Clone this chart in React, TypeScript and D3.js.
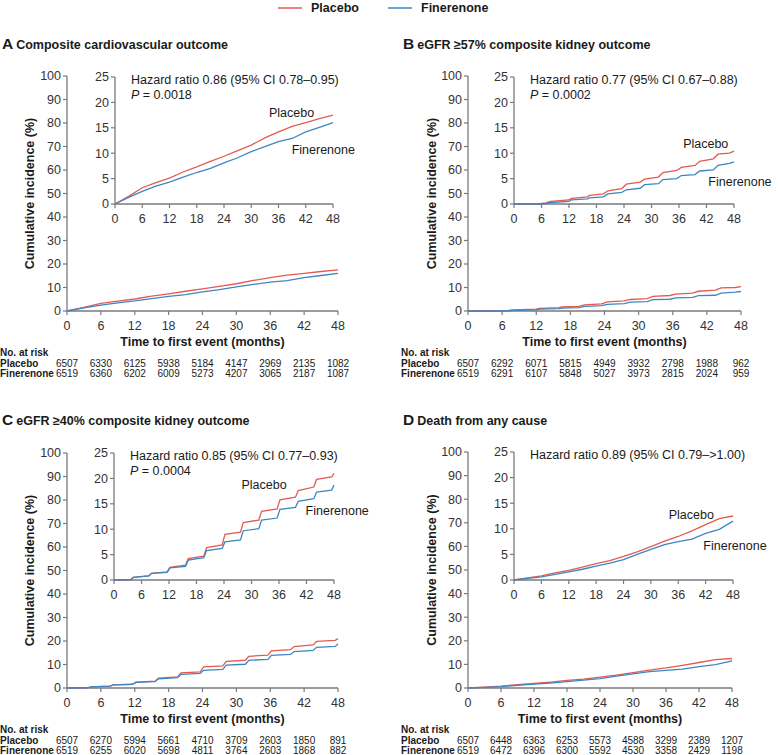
import React from "react";
import * as d3 from "d3";

// ---------- data ----------
const monthTicks = [0, 6, 12, 18, 24, 30, 36, 42, 48];
const mainYTicks = [0, 10, 20, 30, 40, 50, 60, 70, 80, 90, 100];
const insetYTicks = [0, 5, 10, 15, 20, 25];

// Panel A: composite cardiovascular outcome
const aTime = [0, 3, 6, 9, 12, 15, 18, 21, 24, 27, 30, 33, 36, 39, 42, 45, 48];
const aPlacebo = [0, 1.5, 3.2, 4.2, 5.1, 6.3, 7.3, 8.4, 9.4, 10.5, 11.6, 13.0, 14.2, 15.3, 16.0, 16.8, 17.5];
const aFinerenone = [0, 1.3, 2.5, 3.5, 4.3, 5.3, 6.2, 7.0, 8.1, 9.1, 10.3, 11.3, 12.3, 12.9, 14.2, 15.1, 16.0];
const aRiskPlacebo = [6507, 6330, 6125, 5938, 5184, 4147, 2969, 2135, 1082];
const aRiskFinerenone = [6519, 6360, 6202, 6009, 5273, 4207, 3065, 2187, 1087];

// Panel B: eGFR >=57% composite kidney outcome
const bTime = [0, 5, 7, 8, 12, 12.5, 16, 16.5, 19.5, 20.5, 23.5, 24.5, 27.5, 28.5, 31.5, 32.5, 35.5, 36.5, 39.5, 40.5, 43.5, 44.5, 47, 48];
const bPlacebo = [0, 0, 0.2, 0.5, 0.8, 1.1, 1.4, 1.7, 2.0, 2.6, 3.0, 3.9, 4.3, 4.9, 5.3, 6.2, 6.6, 7.2, 7.6, 8.4, 8.9, 9.8, 10.0, 10.4];
const bFinerenone = [0, 0, 0.1, 0.3, 0.5, 0.8, 1.0, 1.2, 1.4, 2.0, 2.3, 2.8, 3.1, 3.8, 4.0, 4.8, 5.0, 5.6, 5.8, 6.5, 6.7, 7.6, 8.0, 8.3];
const bRiskPlacebo = [6507, 6292, 6071, 5815, 4949, 3932, 2798, 1988, 962];
const bRiskFinerenone = [6519, 6291, 6107, 5848, 5027, 3973, 2815, 2024, 959];

// Panel C: eGFR >=40% composite kidney outcome
const cTime = [0, 3.7, 4.2, 7.6, 8.2, 11.6, 12.2, 15.6, 16.2, 19.6, 20.2, 23.6, 24.2, 27.6, 28.2, 31.6, 32.2, 35.6, 36.2, 39.6, 40.2, 43.6, 44.2, 47.5, 48];
const cPlacebo = [0, 0.1, 0.5, 0.8, 1.3, 1.6, 2.5, 2.9, 4.2, 4.7, 6.4, 6.9, 9.0, 9.4, 11.3, 11.8, 13.5, 14.0, 15.8, 16.3, 17.6, 18.3, 19.8, 20.3, 21.0];
const cFinerenone = [0, 0.1, 0.5, 0.8, 1.3, 1.5, 2.4, 2.7, 3.9, 4.4, 5.8, 6.2, 7.5, 7.9, 9.7, 10.1, 11.8, 12.2, 13.9, 14.3, 15.5, 16.0, 17.3, 17.7, 18.7];
const cRiskPlacebo = [6507, 6270, 5994, 5661, 4710, 3709, 2603, 1850, 891];
const cRiskFinerenone = [6519, 6255, 6020, 5698, 4811, 3764, 2603, 1868, 882];

// Panel D: death from any cause
const dTime = [0, 3, 6, 9, 12, 15, 18, 21, 24, 27, 30, 33, 36, 39, 42, 45, 48];
const dPlacebo = [0, 0.4, 0.8, 1.4, 1.9, 2.5, 3.2, 3.8, 4.6, 5.5, 6.5, 7.6, 8.5, 9.6, 10.8, 12.0, 12.5];
const dFinerenone = [0, 0.3, 0.6, 1.1, 1.6, 2.1, 2.7, 3.3, 4.0, 5.0, 6.0, 6.9, 7.5, 8.0, 9.1, 9.9, 11.5];
const dRiskPlacebo = [6507, 6448, 6363, 6253, 5573, 4588, 3299, 2389, 1207];
const dRiskFinerenone = [6519, 6472, 6396, 6300, 5592, 4530, 3358, 2429, 1198];

const panelLetters = ["A", "B", "C", "D"];
const panelTitles = [
  "Composite cardiovascular outcome",
  "eGFR ≥57% composite kidney outcome",
  "eGFR ≥40% composite kidney outcome",
  "Death from any cause",
];
const hazardTexts = [
  "Hazard ratio 0.86 (95% CI 0.78–0.95)",
  "Hazard ratio 0.77 (95% CI 0.67–0.88)",
  "Hazard ratio 0.85 (95% CI 0.77–0.93)",
  "Hazard ratio 0.89 (95% CI 0.79–>1.00)",
];
const pValues = ["0.0018", "0.0002", "0.0004", ""];
// label anchor positions in inset data units [month, %]
const placeboLabelPos = [[33.9, 18.0], [36.9, 11.8], [27.8, 18.7], [33.9, 12.7]];
const finerenoneLabelPos = [[38.9, 10.8], [42.4, 4.5], [41.8, 13.7], [41.5, 6.8]];

const seriesNames = ["Placebo", "Finerenone"];
const COLORS = ["#e35b50", "#3e86c3"];
const AXIS = "#7a7a7a";
const TEXT = "#1a1a1a";
const FONT = "'Liberation Sans', Arial, sans-serif";

const panelData = [
  { time: aTime, p: aPlacebo, f: aFinerenone, rp: aRiskPlacebo, rf: aRiskFinerenone },
  { time: bTime, p: bPlacebo, f: bFinerenone, rp: bRiskPlacebo, rf: bRiskFinerenone },
  { time: cTime, p: cPlacebo, f: cFinerenone, rp: cRiskPlacebo, rf: cRiskFinerenone },
  { time: dTime, p: dPlacebo, f: dFinerenone, rp: dRiskPlacebo, rf: dRiskFinerenone },
];

// layout (pixels)
const layouts = [
  { tx: 2, ty: 43, ylx: 30, main: { x0: 67, x1: 338, y0: 311, y1: 76 }, inset: { x0: 115, x1: 333, y0: 204, y1: 77 } },
  { tx: 403, ty: 43, ylx: 432, main: { x0: 468, x1: 741, y0: 311, y1: 76 }, inset: { x0: 514, x1: 734, y0: 204, y1: 77 } },
  { tx: 2, ty: 419, ylx: 30, main: { x0: 67, x1: 338, y0: 688, y1: 453 }, inset: { x0: 114, x1: 334, y0: 580, y1: 453 } },
  { tx: 403, ty: 419, ylx: 432, main: { x0: 468, x1: 732, y0: 688, y1: 452 }, inset: { x0: 514, x1: 733, y0: 580, y1: 452 } },
];

function Axes({ x, y, yTicks }: any) {
  const [xa, xb] = x.range();
  const [ya, yb] = y.range();
  return (
    <g fontFamily={FONT} fontSize={12.5} fill="#333">
      <line x1={xa} x2={xa} y1={ya} y2={yb} stroke={AXIS} strokeWidth={1.3} />
      <line x1={xa} x2={xb} y1={ya} y2={ya} stroke={AXIS} strokeWidth={1.3} />
      {yTicks.map((t: number) => (
        <g key={"y" + t}>
          <line x1={xa - 4} x2={xa} y1={y(t)} y2={y(t)} stroke={AXIS} strokeWidth={1.2} />
          <text x={xa - 6} y={y(t)} dy="0.35em" textAnchor="end">{t}</text>
        </g>
      ))}
      {monthTicks.map((t) => (
        <g key={"x" + t}>
          <line x1={x(t)} x2={x(t)} y1={ya} y2={ya + 4} stroke={AXIS} strokeWidth={1.2} />
          <text x={x(t)} y={ya + 15} dy="0.35em" textAnchor="middle">{t}</text>
        </g>
      ))}
    </g>
  );
}

function Curves({ x, y, d }: any) {
  const line = d3
    .line<number>()
    .x((_, i) => x(d.time[i]))
    .y((v) => y(v))
    .curve(d3.curveLinear);
  return (
    <g fill="none" strokeWidth={1.3}>
      <path d={line(d.p) || ""} stroke={COLORS[0]} />
      <path d={line(d.f) || ""} stroke={COLORS[1]} />
    </g>
  );
}

function Panel({ idx }: { idx: number }) {
  const L = layouts[idx];
  const d = panelData[idx];
  const mx = d3.scaleLinear().domain([0, 48]).range([L.main.x0, L.main.x1]);
  const my = d3.scaleLinear().domain([0, 100]).range([L.main.y0, L.main.y1]);
  const ix = d3.scaleLinear().domain([0, 48]).range([L.inset.x0, L.inset.x1]);
  const iy = d3.scaleLinear().domain([0, 25]).range([L.inset.y0, L.inset.y1]);
  const midY = (L.main.y0 + L.main.y1) / 2;
  const midX = (L.main.x0 + L.main.x1) / 2;
  const base = L.main.y0;
  return (
    <g>
      <text x={L.tx} y={L.ty} dy="0.35em" fontFamily={FONT} fontWeight="bold" fill={TEXT}>
        <tspan fontSize={15.5}>{panelLetters[idx]}</tspan>
        <tspan fontSize={12.5} dx={3}>{panelTitles[idx]}</tspan>
      </text>
      <text
        transform={`translate(${L.ylx},${midY}) rotate(-90)`}
        dy="0.35em"
        textAnchor="middle"
        fontFamily={FONT}
        fontWeight="bold"
        fontSize={12.5}
        fill={TEXT}
      >
        Cumulative incidence (%)
      </text>
      <Axes x={mx} y={my} yTicks={mainYTicks} />
      <Curves x={mx} y={my} d={d} />
      <Axes x={ix} y={iy} yTicks={insetYTicks} />
      <Curves x={ix} y={iy} d={d} />
      <g fontFamily={FONT} fontSize={12.5} fill={TEXT}>
        <text x={L.inset.x0 + 16} y={L.inset.y1 + 3} dy="0.35em">{hazardTexts[idx]}</text>
        {pValues[idx] && (
          <text x={L.inset.x0 + 16} y={L.inset.y1 + 18} dy="0.35em">
            <tspan fontStyle="italic">P</tspan> = {pValues[idx]}
          </text>
        )}
        <text x={ix(placeboLabelPos[idx][0])} y={iy(placeboLabelPos[idx][1])} dy="0.35em">{seriesNames[0]}</text>
        <text x={ix(finerenoneLabelPos[idx][0])} y={iy(finerenoneLabelPos[idx][1])} dy="0.35em">{seriesNames[1]}</text>
      </g>
      <text x={midX} y={base + 31} dy="0.35em" textAnchor="middle" fontFamily={FONT} fontWeight="bold" fontSize={12.5} fill={TEXT}>
        Time to first event (months)
      </text>
      <g fontFamily={FONT} fontSize={10} fill={TEXT}>
        <text x={L.tx - 2} y={base + 41} dy="0.35em" fontWeight="bold">No. at risk</text>
        <text x={L.tx - 2} y={base + 52} dy="0.35em" fontWeight="bold">{seriesNames[0]}</text>
        <text x={L.tx - 2} y={base + 62.5} dy="0.35em" fontWeight="bold">{seriesNames[1]}</text>
        {monthTicks.map((t, i) => (
          <g key={t}>
            <text x={mx(t)} y={base + 52} dy="0.35em" textAnchor="middle">{d.rp[i]}</text>
            <text x={mx(t)} y={base + 62.5} dy="0.35em" textAnchor="middle">{d.rf[i]}</text>
          </g>
        ))}
      </g>
    </g>
  );
}

export default function App() {
  const legendX = [278, 388];
  return (
    <svg
      width={780}
      height={755}
      style={{ position: "absolute", left: 0, top: 0, background: "#fff" }}
    >
      <rect width={780} height={755} fill="#fff" />
      {seriesNames.map((s, i) => (
        <g key={s}>
          <line x1={legendX[i]} x2={legendX[i] + 24} y1={8} y2={8} stroke={COLORS[i]} strokeWidth={1.5} />
          <text x={legendX[i] + 33} y={8} dy="0.35em" fontFamily={FONT} fontWeight="bold" fontSize={12.5} fill={TEXT}>{s}</text>
        </g>
      ))}
      {[0, 1, 2, 3].map((i) => (
        <Panel key={i} idx={i} />
      ))}
    </svg>
  );
}
